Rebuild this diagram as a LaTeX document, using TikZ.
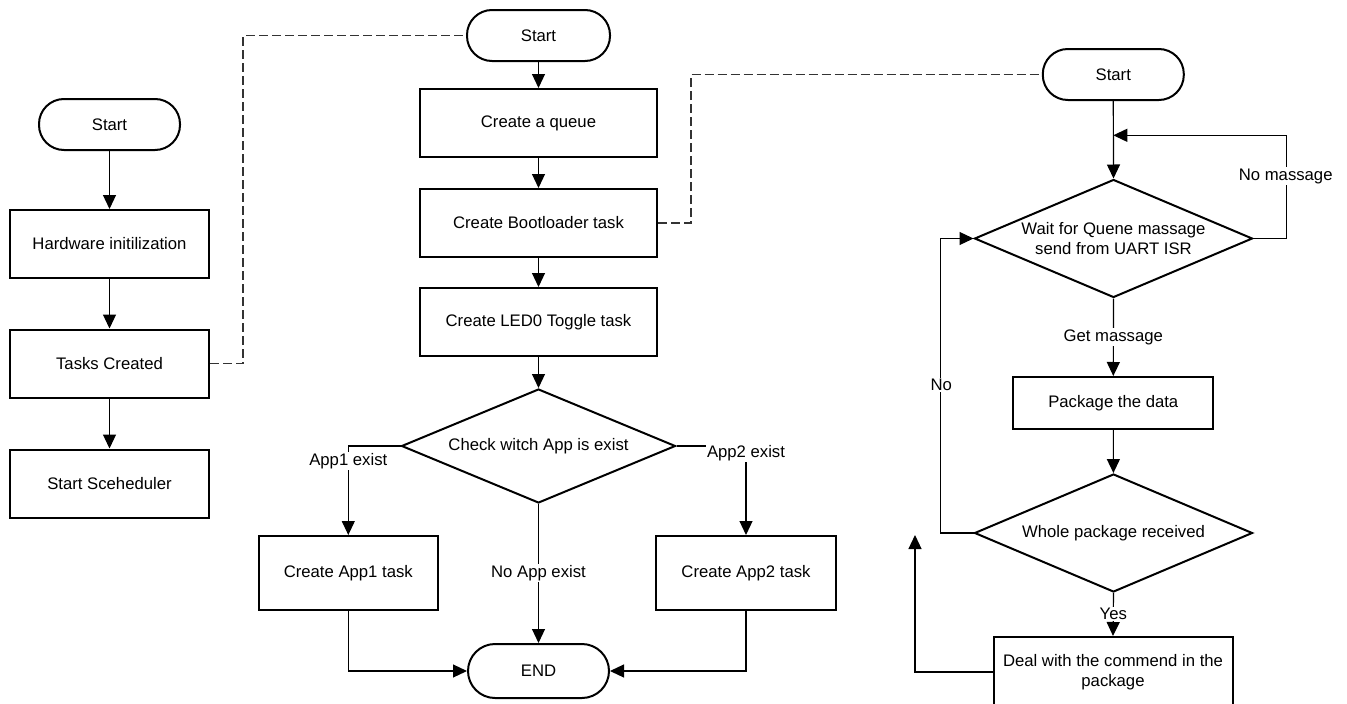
\documentclass[tikz,border=0pt]{standalone}
\usepackage{fontspec}
\setmainfont{Liberation Sans}
\usetikzlibrary{arrows.meta,shapes.geometric}
\begin{document}
\begin{tikzpicture}[x=1pt,y=-1pt,
  font=\fontsize{16.7}{20}\selectfont,
  term/.style={draw, line width=2pt, rounded corners=25pt, minimum width=141pt, minimum height=51pt, inner sep=0pt},
  proc/.style={draw, line width=2pt, minimum height=68pt, align=center, inner sep=0pt},
  dec/.style={draw, line width=2pt, diamond, aspect=2.4, inner sep=0pt, align=center},
  conn/.style={line width=1.2pt, -{Triangle[width=13pt,length=14pt]}},
  dashline/.style={line width=1.3pt, draw=black!80, dash pattern=on 9pt off 4pt},
  lbl/.style={fill=white, inner sep=1.5pt}
]
\useasboundingbox (0,0) rectangle (1347,704);

% left column
\node[term] (s1) at (109.5,124.5) {Start};
\node[proc, minimum width=199pt] (hw) at (109.5,244) {Hardware initilization};
\node[proc, minimum width=199pt] (tc) at (109.5,363.5) {Tasks Created};
\node[proc, minimum width=199pt] (ss) at (109.5,483.5) {Start Sceheduler};
\draw[conn] (s1) -- (hw);
\draw[conn] (hw) -- (tc);
\draw[conn] (tc) -- (ss);

% middle column
\node[term, minimum width=143pt] (s2) at (538.5,35.5) {Start};
\node[proc, minimum width=237pt] (q) at (538.5,123) {Create a queue};
\node[proc, minimum width=237pt] (bl) at (538.5,223) {Create Bootloader task};
\node[proc, minimum width=237pt] (led) at (538.5,322) {Create LED0 Toggle task};
\node[dec, minimum width=274pt, minimum height=114pt] (chk) at (538.5,446) {Check witch App is exist};
\node[proc, minimum width=179pt, minimum height=74pt] (a1) at (348.3,573) {Create App1 task};
\node[proc, minimum width=180pt, minimum height=74pt] (a2) at (746,573) {Create App2 task};
\node[term, minimum height=54pt, rounded corners=27pt] (end) at (538.5,671) {END};

\draw[dashline] (tc.east) -- ++(33,0) |- (s2.west);
\draw[conn] (s2) -- (q);
\draw[conn] (q) -- (bl);
\draw[conn] (bl) -- (led);
\draw[conn] (led) -- (chk);
\draw[conn] (chk.west) -| (a1.north);
\draw[conn] (chk.east) -| (a2.north);
\draw[conn] (chk.south) -- (end.north);
\draw[conn] (a1.south) |- (end.west);
\draw[conn] (a2.south) |- (end.east);
\node[lbl] (l1) at (348.3,461) {App1 exist};
\node[lbl] (l2) at (746,453) {App2 exist};
\node[lbl] (l3) at (538.5,573) {No App exist};

% right column
\node[term] (s3) at (1113.3,74.5) {Start};
\node[dec, minimum width=278pt, minimum height=118pt] (w) at (1113.5,238.5) {Wait for Quene massage\\send from UART ISR};
\node[proc, minimum width=200pt, minimum height=52pt] (pk) at (1113.3,403) {Package the data};
\node[dec, minimum width=278pt, minimum height=118pt] (wh) at (1113.5,533) {Whole package received};
\node[proc, minimum width=239pt, minimum height=70pt] (dl) at (1113,672) {Deal with the commend in the\\package};
\coordinate (j) at (1113.3,135.3);
\coordinate (up) at (915,535);

\draw[dashline] (bl.east) -- ++(33,0) |- (s3.west);
\draw[conn] (s3.south) -- (w.north);
\draw[conn] (w.east) -- ++(33,0) |- (j);
\draw[conn] (w.south) -- (pk.north);
\draw[conn] (pk) -- (wh);
\draw[conn] (wh.west) -- ++(-33,0) |- (w.west);
\draw[conn] (wh.south) -- (dl.north);
\draw[conn] (dl.west) -| (up);
\node[lbl] (l4) at (1285.7,176) {No massage};
\node[lbl] (l5) at (1113.3,337.3) {Get massage};
\node[lbl] (l6) at (941.3,385) {No};
\node[lbl] (l7) at (1113.3,614) {Yes};
\end{tikzpicture}
\end{document}
